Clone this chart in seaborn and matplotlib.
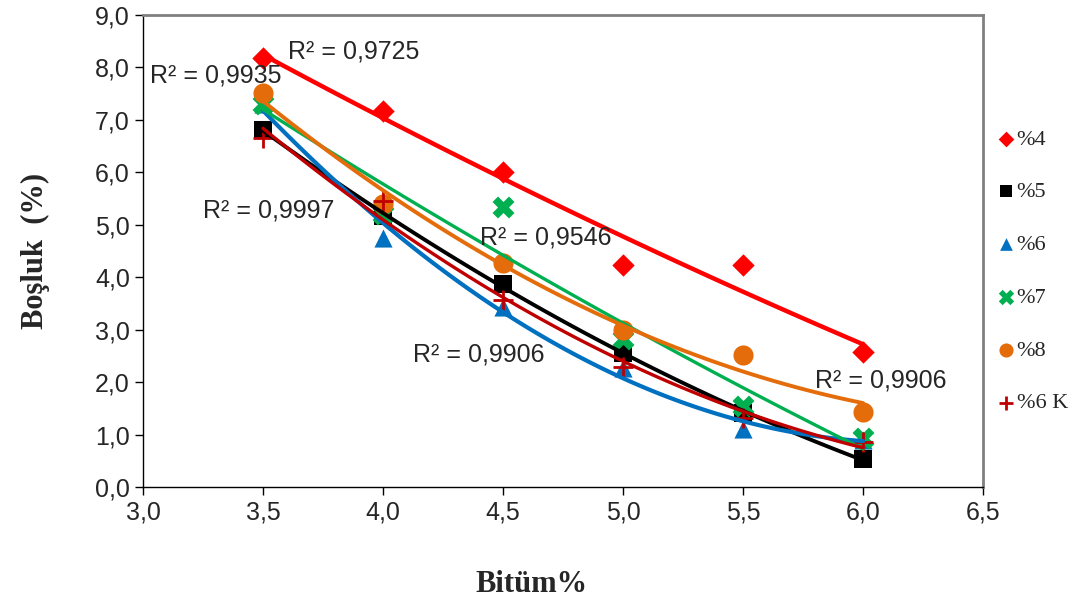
import numpy as np
import pandas as pd
import matplotlib
matplotlib.use('Agg')
import matplotlib.pyplot as plt
import seaborn as sns

# data
bitum = [3.5, 4.0, 4.5, 5.0, 5.5, 6.0]
p4 = [8.18, 7.17, 6.00, 4.23, 4.23, 2.57]
p5 = [6.81, 5.17, 3.87, 2.56, 1.41, 0.53]
p6 = [7.30, 4.75, 3.43, 2.27, 1.10, 0.90]
p7 = [7.30, 5.20, 5.34, 2.82, 1.55, 0.93]
p8 = [7.51, 5.40, 4.27, 3.00, 2.52, 1.43]
p6k = [6.65, 5.45, 3.57, 2.29, 1.32, 0.86]

series_names = ['%4', '%5', '%6', '%7', '%8', '%6 K']
series_vals = [p4, p5, p6, p7, p8, p6k]
colors = ['#FF0000', '#000000', '#0070C0', '#00B050', '#E46C0A', '#C00000']
markers = ['D', 's', '^', 'X', 'o', '+']
marker_sizes = [130, 170, 170, 250, 210, 200]
line_widths = [3.2, 2.8, 3.0, 2.4, 2.8, 2.4]

r2_labels = ['R² = 0,9725', 'R² = 0,9935', 'R² = 0,9997',
             'R² = 0,9546', 'R² = 0,9906', 'R² = 0,9906']
r2_pos = [(3.604, 8.31), (3.029, 7.84), (3.25, 5.28),
          (4.404, 4.75), (4.125, 2.52), (5.80, 2.04)]

xticks = [3.0, 3.5, 4.0, 4.5, 5.0, 5.5, 6.0, 6.5]
xtick_labels = ['3,0', '3,5', '4,0', '4,5', '5,0', '5,5', '6,0', '6,5']
yticks = [0, 1, 2, 3, 4, 5, 6, 7, 8, 9]
ytick_labels = ['0,0', '1,0', '2,0', '3,0', '4,0', '5,0', '6,0', '7,0', '8,0', '9,0']

sns.set_style('white')
plt.rcParams['font.family'] = ['Liberation Sans', 'DejaVu Sans']

fig = plt.figure(figsize=(10.78, 6.06), dpi=100)
ax = fig.add_axes([143 / 1078, 1 - 487 / 606, 840 / 1078, 472 / 606])

rows = []
for name, vals in zip(series_names, series_vals):
    for b, v in zip(bitum, vals):
        rows.append({'series': name, 'bitum': b, 'bosluk': v})
df = pd.DataFrame(rows)

# 2nd order polynomial trendlines (Excel style)
xs = np.linspace(bitum[0], bitum[-1], 100)
fit_rows = []
for name, vals in zip(series_names, series_vals):
    coef = np.polyfit(bitum, vals, 2)
    for x in xs:
        fit_rows.append({'series': name, 'bitum': x, 'bosluk': np.polyval(coef, x)})
fit_df = pd.DataFrame(fit_rows)

for name, c, m, s in zip(series_names, colors, markers, marker_sizes):
    sub = df[df['series'] == name]
    if m == '+':
        sns.scatterplot(data=sub, x='bitum', y='bosluk', ax=ax, color=c, marker=m,
                        s=s, linewidth=2, label=name, zorder=3)
    else:
        sns.scatterplot(data=sub, x='bitum', y='bosluk', ax=ax, color=c, marker=m,
                        s=s, linewidth=0, label=name, zorder=3)

for name, c, lw in zip(series_names, colors, line_widths):
    sub = fit_df[fit_df['series'] == name]
    sns.lineplot(data=sub, x='bitum', y='bosluk', ax=ax, color=c, lw=lw,
                 legend=False, zorder=4)

for txt, (x, y) in zip(r2_labels, r2_pos):
    ax.text(x, y, txt, fontsize=18, va='center', ha='left', zorder=5)

ax.set_xlim(3.0, 6.5)
ax.set_ylim(0, 9)
ax.set_xticks(xticks)
ax.set_xticklabels(xtick_labels)
ax.set_yticks(yticks)
ax.set_yticklabels(ytick_labels)
ax.tick_params(axis='both', labelsize=18, direction='out', length=6, width=1,
               color='black', bottom=True, left=True)
ax.set_xlabel('')
ax.set_ylabel('')

for side in ['left', 'bottom']:
    ax.spines[side].set_color('black')
    ax.spines[side].set_linewidth(1)
for side in ['top', 'right']:
    ax.spines[side].set_color('#808080')
    ax.spines[side].set_linewidth(2)

handles, labels = ax.get_legend_handles_labels()
ax.legend_.remove()
fig.legend(handles, labels, loc='upper left', bbox_to_anchor=(1000 / 1078, 1 - 129 / 606),
           frameon=False, markerscale=0.7, handlelength=0.5, handletextpad=0.25,
           labelspacing=1.45, borderpad=0, borderaxespad=0,
           prop={'family': 'Liberation Serif', 'size': 16})

fig.text(35 / 1078, 1 - 251 / 606, 'Boşluk  (%)', rotation=90, ha='center', va='center',
         family='Liberation Serif', fontweight='bold', fontsize=22)
fig.text(532 / 1078, 1 - 584 / 606, 'Bitüm%', ha='center', va='center',
         family='Liberation Serif', fontweight='bold', fontsize=22)

fig.savefig('out.png', dpi=100)
